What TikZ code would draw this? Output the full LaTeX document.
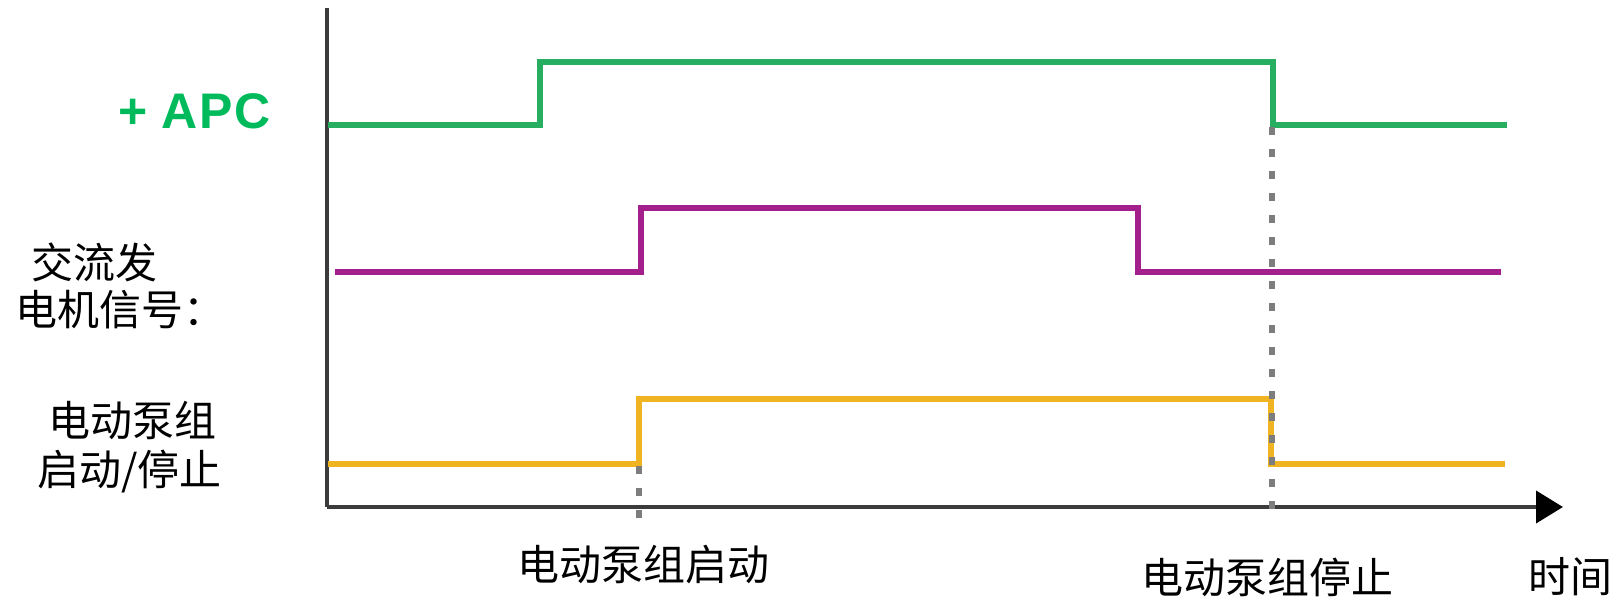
\documentclass[tikz,border=0pt]{standalone}
\usepackage{fontspec}
\setmainfont{Liberation Sans}
\newfontfamily\cjk{Noto Sans CJK SC}
\usetikzlibrary{arrows.meta}
\definecolor{sgreen}{RGB}{39,174,96}
\definecolor{tgreen}{RGB}{0,186,92}
\definecolor{smag}{RGB}{163,32,140}
\definecolor{syel}{RGB}{240,180,35}
\definecolor{axisgray}{RGB}{60,60,60}
\definecolor{dotgray}{RGB}{125,125,125}
\tikzset{
  sig/.style={line width=5.5pt, line join=miter},
  axisline/.style={line width=4pt, draw=axisgray},
  guide/.style={line width=6pt, draw=dotgray, dash pattern=on 8pt off 14pt},
  lbl/.style={inner sep=0pt, anchor=west, font=\cjk\fontsize{42pt}{50pt}\selectfont},
}
\begin{document}
\begin{tikzpicture}[x=1pt,y=-1pt]
\useasboundingbox (0,0) rectangle (1618,603);
% axes
\coordinate (yt) at (327,8);
\coordinate (o) at (327,507);
\coordinate (xt) at (1563,507);
\draw[axisline] (yt) -- (o);
\draw[axisline,-{Triangle[length=27pt,width=32pt,color=black]}] (o) -- (xt);
% green APC signal
\draw[sig,sgreen] (328,125) -- (540,125) -- (540,62) -- (1273,62) -- (1273,125) -- (1507,125);
% magenta alternator signal
\draw[sig,smag] (335,272) -- (641,272) -- (641,208) -- (1138,208) -- (1138,272) -- (1501,272);
% yellow pump signal
\draw[sig,syel] (328,464) -- (639,464) -- (639,399) -- (1271,399) -- (1271,464) -- (1505,464);
% guides
\coordinate (g1a) at (639,466);
\coordinate (g1b) at (639,522);
\coordinate (g2a) at (1272,127);
\coordinate (g2b) at (1272,518);
\draw[guide] (g1a) -- (g1b);
\draw[guide] (g2a) -- (g2b);
% labels
\node[inner sep=0pt, anchor=base west, text=tgreen, font=\bfseries\fontsize{50pt}{60pt}\selectfont] (apc) at (118,128) {+ A\kern2pt P\kern2pt C};
\node[lbl] (l1) at (31,262) {交流发};
\node[lbl] (l2) at (15,310) {电机信号：};
\node[lbl] (l3) at (48,421) {电动泵组};
\node[lbl] (l4) at (37,472) {启动/停止};
\node[lbl] (t1) at (517,565) {电动泵组启动};
\node[lbl] (t2) at (1141,577) {电动泵组停止};
\node[lbl] (t3) at (1528,577) {时间};
\end{tikzpicture}
\end{document}
